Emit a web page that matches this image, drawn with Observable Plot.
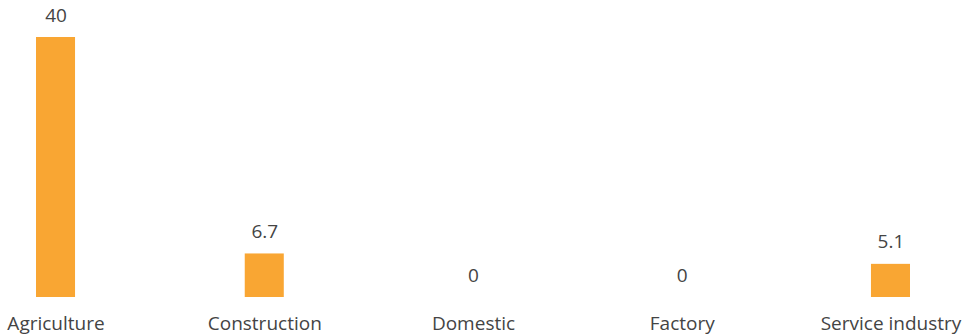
<!DOCTYPE html>
<html><head><meta charset="utf-8">
<script src="https://cdn.jsdelivr.net/npm/d3@7"></script>
<script src="https://cdn.jsdelivr.net/npm/@observablehq/plot@0.6"></script>
<style>
body{margin:0;background:#fff;}
#chart svg{font-family:"Open Sans",sans-serif;}
</style></head>
<body><div id="chart"></div>
<script>
const categories = ["Agriculture","Construction","Domestic","Factory","Service industry"];
const values = [40, 6.7, 0, 0, 5.1];
const labels = ["40","6.7","0","0","5.1"];
const data = categories.map((c,i)=>({cat:c, value:values[i], label:labels[i]}));
const chart = Plot.plot({
  width: 968, height: 336,
  marginLeft: 36, marginRight: 58, marginTop: 37, marginBottom: 39,
  style: {fontSize: "19px", fontFamily: "'Open Sans', sans-serif", color: "#444", background: "#fff", overflow: "visible"},
  x: {domain: categories, paddingInner: 0.813, paddingOuter: 0, round: false, label: null},
  y: {domain: [0, 40], axis: null},
  marks: [
    Plot.barY(data, {x: "cat", y: "value", fill: "#f9a633"}),
    Plot.text(data, {x: "cat", y: "value", text: "label", lineAnchor: "bottom", dy: -16, fill: "#444", fontSize: 19}),
    Plot.axisX({tickSize: 0, tickPadding: 19, label: null, fontSize: 19, fill: "#444"})
  ]
});
document.getElementById("chart").append(chart);
</script></body></html>
